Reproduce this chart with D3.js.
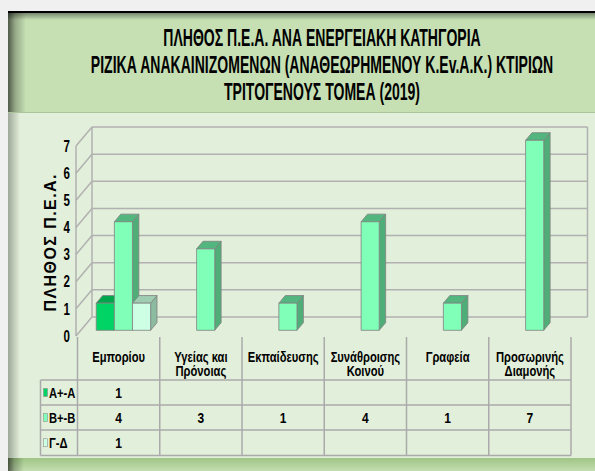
<!DOCTYPE html>
<html>
<head>
<meta charset="utf-8">
<script src="https://cdn.jsdelivr.net/npm/d3@7"></script>
<style>
	html, body { margin: 0; padding: 0; background: #f0f0f0; }
	svg { display: block; }
	text { font-family: "Liberation Sans Narrow", "Arial Narrow", "Liberation Sans", Arial, sans-serif; font-weight: bold; fill: #000; }
</style>
</head>
<body>
<div id="chart"></div>
<script>
const titleLines = [
	"ΠΛΗΘΟΣ Π.Ε.Α. ΑΝΑ ΕΝΕΡΓΕΙΑΚΗ ΚΑΤΗΓΟΡΙΑ",
	"ΡΙΖΙΚΑ ΑΝΑΚΑΙΝΙΖΟΜΕΝΩΝ (ΑΝΑΘΕΩΡΗΜΕΝΟΥ Κ.Εv.Α.Κ.) ΚΤΙΡΙΩΝ",
	"ΤΡΙΤΟΓΕΝΟΥΣ ΤΟΜΕΑ (2019)"
];
const yTitle = "ΠΛΗΘΟΣ Π.Ε.Α.";
const categories = ["Εμπορίου", "Υγείας και Πρόνοιας", "Εκπαίδευσης", "Συνάθροισης Κοινού", "Γραφεία", "Προσωρινής Διαμονής"];
const categoryLines = [["Εμπορίου"], ["Υγείας και", "Πρόνοιας"], ["Εκπαίδευσης"], ["Συνάθροισης", "Κοινού"], ["Γραφεία"], ["Προσωρινής", "Διαμονής"]];
const seriesNames = ["Α+-Α", "Β+-Β", "Γ-Δ"];
const valuesA = [1, null, null, null, null, null];
const valuesB = [4, 3, 1, 4, 1, 7];
const valuesG = [1, null, null, null, null, null];
const yTicks = [0, 1, 2, 3, 4, 5, 6, 7];

const seriesValues = [valuesA, valuesB, valuesG];
const colors = [
	{ front: "#00d464", top: "#00a64c", side: "#00a64c" },
	{ front: "#80ffb8", top: "#52b67e", side: "#4fae78" },
	{ front: "#ccffe4", top: "#9ecdb1", side: "#8cbb9f" }
];

const width = 595;
const height = 471;
const depth = { x: 16, y: -19 };   // front plane -> back wall
const barDepth = [0.3, 0.7];

const svg = d3.select("#chart")
	.append("svg")
	.attr("width", width)
	.attr("height", height)
	.attr("viewBox", [0, 0, width, height]);

// narrow look: draw text at the origin and squeeze it horizontally
const squeeze = (px, py, k) => `translate(${px},${py}) scale(${k},1)`;

const defs = svg.append("defs");
function gradient(id, x2, y2, stops) {
	const g = defs.append("linearGradient").attr("id", id)
		.attr("x1", 0).attr("y1", 0).attr("x2", x2).attr("y2", y2);
	stops.forEach(s => g.append("stop").attr("offset", s[0]).attr("stop-color", s[1]).attr("stop-opacity", s[2]));
}
gradient("shadeLeft", 1, 0, [[0, "#000", 0.6], [0.4, "#000", 0.25], [1, "#000", 0]]);
gradient("shadeLeftSoft", 1, 0, [[0, "#000", 0.3], [1, "#000", 0]]);
gradient("shadeTop", 0, 1, [[0, "#000", 0.45], [1, "#000", 0]]);
gradient("bottomBand", 0, 1, [[0, "#9fc585", 1], [1, "#c3ddb0", 1]]);

// frame
svg.append("rect").attr("x", 8).attr("y", 12).attr("width", width - 8).attr("height", 100).attr("fill", "#c6e0b4");
svg.append("rect").attr("x", 8).attr("y", 112).attr("width", width - 8).attr("height", 346).attr("fill", "#e2efda");
svg.append("rect").attr("x", 8).attr("y", 458).attr("width", width - 8).attr("height", 13).attr("fill", "url(#bottomBand)");
svg.append("line").attr("x1", 8).attr("x2", width).attr("y1", 112.5).attr("y2", 112.5).attr("stroke", "#a9c49a").attr("stroke-width", 1);
svg.append("rect").attr("x", 8).attr("y", 12).attr("width", 18).attr("height", 100).attr("fill", "url(#shadeLeft)");
svg.append("rect").attr("x", 8).attr("y", 113).attr("width", 12).attr("height", 345).attr("fill", "url(#shadeLeftSoft)");
svg.append("rect").attr("x", 8).attr("y", 458).attr("width", 16).attr("height", 13).attr("fill", "url(#shadeLeft)");
svg.append("rect").attr("x", 8).attr("y", 12).attr("width", width - 8).attr("height", 8).attr("fill", "url(#shadeTop)");
svg.append("line").attr("x1", 8).attr("x2", width).attr("y1", 12).attr("y2", 12).attr("stroke", "#000").attr("stroke-width", 2);

// title
svg.append("g")
	.selectAll("text")
	.data(titleLines)
	.join("text")
	.attr("transform", (d, i) => squeeze(322, 46 + i * 27, 0.61))
	.attr("text-anchor", "middle")
	.attr("font-size", 23)
	.text(d => d);

// scales (front plane)
const x = d3.scaleBand()
	.domain(categories)
	.range([77.5, 571]);

const xs = d3.scaleBand()
	.domain(seriesNames)
	.range([0, x.bandwidth()])
	.paddingOuter(0.77);

const y = d3.scaleLinear()
	.domain([0, 7])
	.range([336, 146]);

const x0 = 76;
const xBack = x0 + depth.x;
const xRightBack = 587.5;
const grid = "#b1b1b1";

// back wall gridlines and left wall diagonals
const gridG = svg.append("g").attr("stroke", grid).attr("stroke-width", 1.5).attr("fill", "none");
gridG.selectAll(".hgrid")
	.data(yTicks)
	.join("line")
	.attr("x1", xBack).attr("x2", xRightBack)
	.attr("y1", d => y(d) + depth.y).attr("y2", d => y(d) + depth.y);
gridG.selectAll(".diag")
	.data(yTicks)
	.join("line")
	.attr("x1", x0).attr("x2", xBack)
	.attr("y1", d => y(d)).attr("y2", d => y(d) + depth.y);
gridG.append("line").attr("x1", xBack).attr("x2", xBack).attr("y1", y(7) + depth.y).attr("y2", y(0) + depth.y);
gridG.append("line").attr("x1", xRightBack).attr("x2", xRightBack).attr("y1", y(7) + depth.y).attr("y2", y(0) + depth.y);
gridG.append("line").attr("x1", x0).attr("x2", x0).attr("y1", y(7)).attr("y2", y(0));

// y axis labels
svg.append("g")
	.selectAll("text")
	.data(yTicks)
	.join("text")
	.attr("transform", d => squeeze(70, y(d), 0.72))
	.attr("dy", "0.36em")
	.attr("text-anchor", "end")
	.attr("font-size", 16)
	.text(d => d);

svg.append("text")
	.attr("transform", "translate(56,243) rotate(-90)")
	.attr("text-anchor", "middle")
	.attr("font-size", 16)
	.attr("textLength", 137)
	.attr("lengthAdjust", "spacing")
	.text(yTitle);

// 3D bars
const bars = [];
categories.forEach((c, ci) => {
	seriesNames.forEach((s, si) => {
		const v = seriesValues[si][ci];
		if (v != null) bars.push({ c, s, si, v });
	});
});

const off = { x: depth.x * barDepth[0], y: depth.y * barDepth[0] };
const dep = { x: depth.x * (barDepth[1] - barDepth[0]), y: depth.y * (barDepth[1] - barDepth[0]) };

const barG = svg.append("g")
	.attr("stroke", "#808080")
	.attr("stroke-width", 0.8)
	.attr("stroke-linejoin", "round");

const bar = barG.selectAll("g")
	.data(bars)
	.join("g");

function geom(d) {
	const l = x(d.c) + xs(d.s) + off.x;
	const r = l + xs.bandwidth();
	const t = y(d.v) + off.y;
	const b = y(0) + off.y;
	return { l, r, t, b };
}

bar.append("path")
	.attr("fill", d => colors[d.si].side)
	.attr("d", d => {
		const g = geom(d);
		return `M${g.r},${g.t}L${g.r + dep.x},${g.t + dep.y}L${g.r + dep.x},${g.b + dep.y}L${g.r},${g.b}Z`;
	});
bar.append("path")
	.attr("fill", d => colors[d.si].top)
	.attr("d", d => {
		const g = geom(d);
		return `M${g.l},${g.t}L${g.r},${g.t}L${g.r + dep.x},${g.t + dep.y}L${g.l + dep.x},${g.t + dep.y}Z`;
	});
bar.append("rect")
	.attr("fill", d => colors[d.si].front)
	.attr("x", d => geom(d).l)
	.attr("y", d => geom(d).t)
	.attr("width", xs.bandwidth())
	.attr("height", d => geom(d).b - geom(d).t);

// data table
const tableTop = 337;
const rowY = [380, 405, 430, 455.5];
const tableLeft = 40.5;
const tableRight = x.range()[1];

const tableG = svg.append("g").attr("stroke", "#aaaaaa").attr("stroke-width", 1.5);
tableG.selectAll(".v")
	.data(categories.map(c => x(c)).concat([tableRight]))
	.join("line")
	.attr("x1", d => d).attr("x2", d => d)
	.attr("y1", tableTop).attr("y2", rowY[3]);
tableG.append("line").attr("x1", tableLeft).attr("x2", tableLeft).attr("y1", rowY[0]).attr("y2", rowY[3]);
tableG.selectAll(".h")
	.data(rowY)
	.join("line")
	.attr("x1", tableLeft).attr("x2", tableRight)
	.attr("y1", d => d).attr("y2", d => d);

// category headers
svg.append("g")
	.selectAll("text")
	.data(categories)
	.join("text")
	.attr("transform", d => squeeze(x(d) + x.bandwidth() / 2, 362, 0.8))
	.attr("text-anchor", "middle")
	.attr("font-size", 14)
	.each(function (d, i) {
		d3.select(this).selectAll("tspan")
			.data(categoryLines[i])
			.join("tspan")
			.attr("x", 0)
			.attr("dy", (t, j) => j === 0 ? 0 : 14.5)
			.text(t => t);
	});

// legend keys and row labels
const rowG = svg.append("g")
	.selectAll("g")
	.data(seriesNames)
	.join("g")
	.attr("transform", (d, i) => `translate(0,${(rowY[i] + rowY[i + 1]) / 2})`);

rowG.append("rect")
	.attr("x", 43.5).attr("y", -4)
	.attr("width", 4).attr("height", 8)
	.attr("fill", (d, i) => colors[i].front)
	.attr("stroke", "#909090")
	.attr("stroke-width", 0.6);

rowG.append("text")
	.attr("transform", squeeze(49, 0, 0.8))
	.attr("dy", "0.36em")
	.attr("font-size", 14)
	.text(d => d);

rowG.selectAll(".val")
	.data((d, i) => categories.map((c, ci) => ({ c, v: seriesValues[i][ci] })).filter(e => e.v != null))
	.join("text")
	.attr("transform", e => squeeze(x(e.c) + x.bandwidth() / 2, 0, 0.8))
	.attr("dy", "0.36em")
	.attr("text-anchor", "middle")
	.attr("font-size", 15)
	.text(e => e.v);
</script>
</body>
</html>
